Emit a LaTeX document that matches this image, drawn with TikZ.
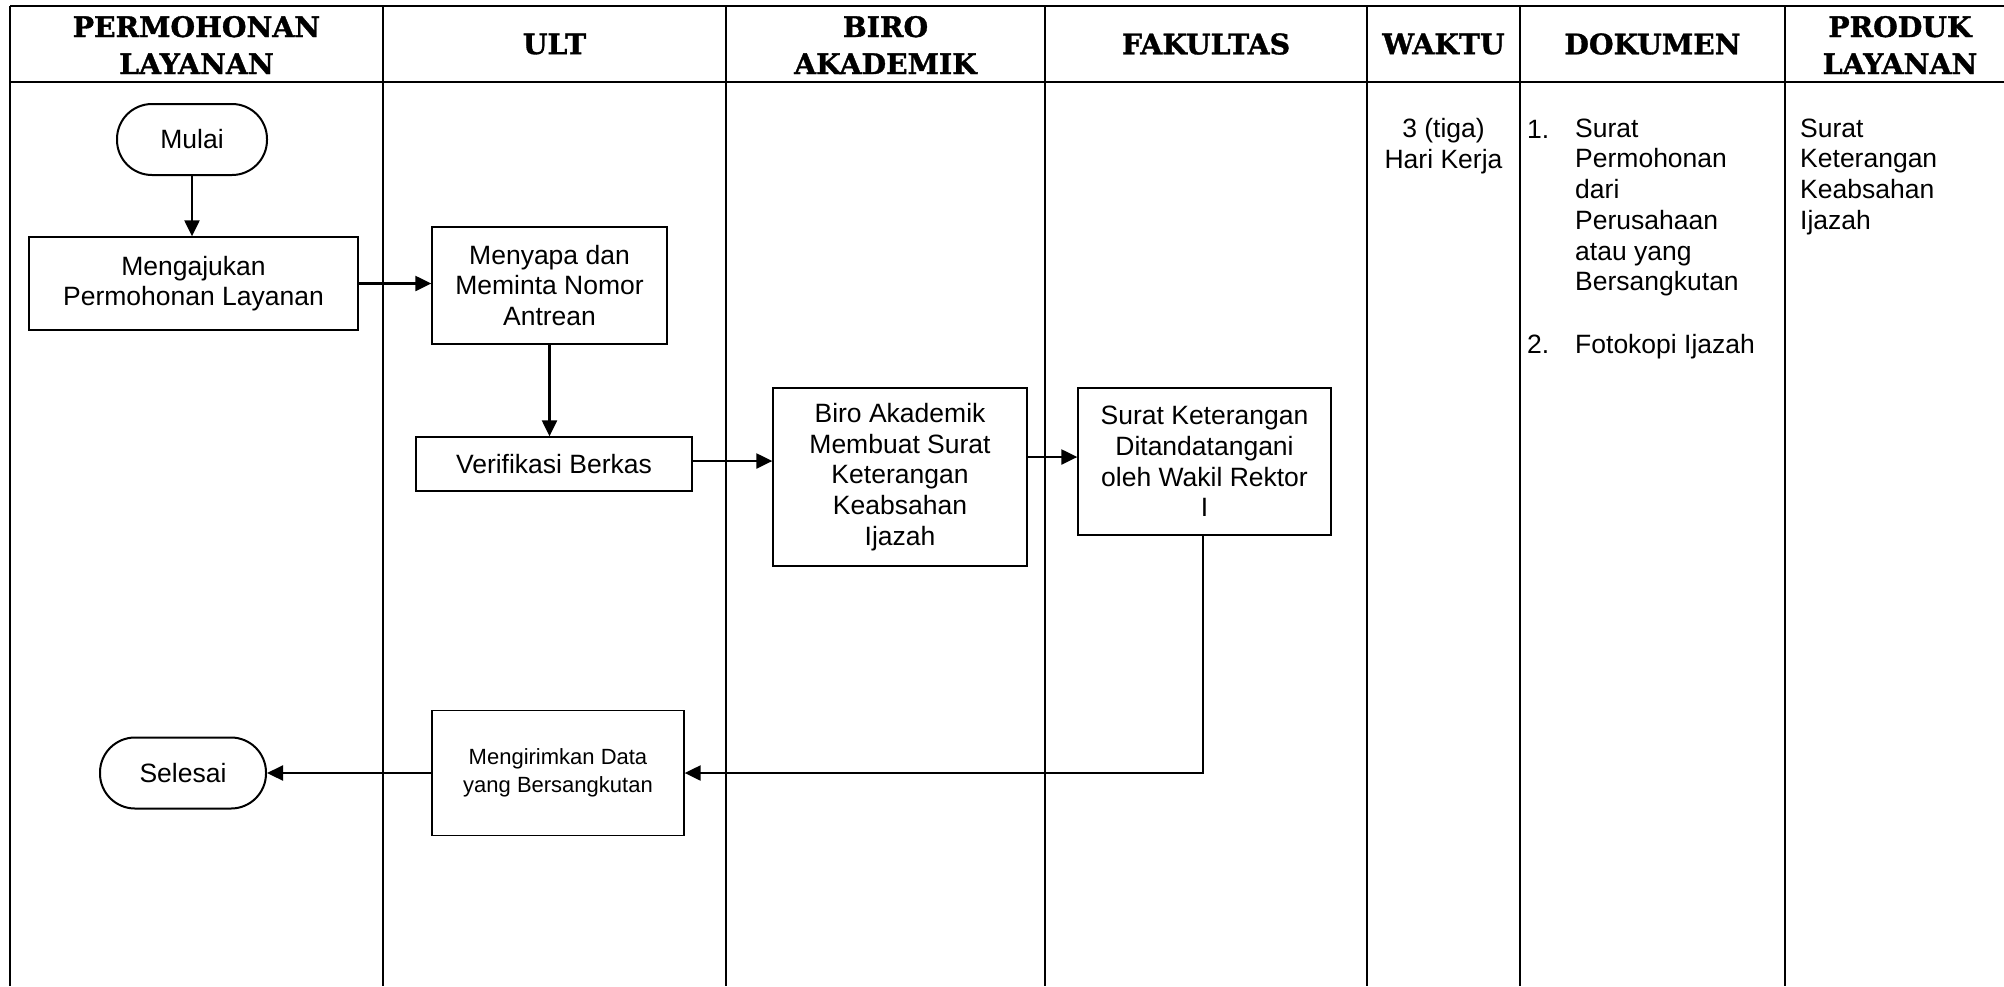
\documentclass[tikz,border=0pt]{standalone}
\usepackage{fontspec}
\setmainfont{Liberation Sans}
\newfontfamily\hdrfont{DejaVu Serif}[BoldFeatures={FakeBold=1.2}]
\usetikzlibrary{arrows.meta}
\newcommand{\bodyfs}{\fontsize{26.5}{30.7}\selectfont}
\newcommand{\smallfs}{\fontsize{22}{28}\selectfont}
\newcommand{\hdrfs}{\hdrfont\bfseries\fontsize{28.3}{37}\selectfont}
\tikzset{
  lane/.style={line width=2.2pt},
  box/.style={draw, line width=1.3pt, inner sep=0pt, align=center, font=\bodyfs},
  term/.style={draw, line width=2pt, inner sep=0pt, align=center, font=\bodyfs, rounded corners=35pt},
  arr/.style={line width=2.2pt, -{Triangle[length=16pt,width=15pt]}},
  hdr/.style={inner sep=0pt, align=center, font=\hdrfs},
  txt/.style={inner sep=0pt, font=\bodyfs},
}
\begin{document}
\begin{tikzpicture}[x=1pt,y=-1pt]
\useasboundingbox (0,0) rectangle (2004,986);
\fill[white] (0,0) rectangle (2004,986);
% table
\draw[lane] (10,6) -- (2004,6);
\draw[lane] (10,82) -- (2004,82);
\foreach \xx in {10,383,726,1045,1367,1520,1785}{
  \draw[lane] (\xx,6) -- (\xx,986);
}
% headers
\node[hdr] (h1) at (196.5,45) {PERMOHONAN\\LAYANAN};
\node[hdr] (h2) at (554.5,44) {ULT};
\node[hdr] (h3) at (885.5,45) {BIRO\\AKADEMIK};
\node[hdr] (h4) at (1206,44) {FAKULTAS};
\node[hdr] (h5) at (1443.5,44) {WAKTU};
\node[hdr] (h6) at (1652.5,44) {DOKUMEN};
\node[hdr] (h7) at (1900,45) {PRODUK\\LAYANAN};
% flow nodes
\node[term, minimum width=150pt, minimum height=71pt] (mulai) at (192,139.5) {Mulai};
\node[box, minimum width=329pt, minimum height=93pt] (aju) at (193.5,283.5) {Mengajukan\\Permohonan Layanan};
\node[box, minimum width=235pt, minimum height=117pt] (sapa) at (549.5,285.5) {Menyapa dan\\Meminta Nomor\\Antrean};
\node[box, minimum width=276pt, minimum height=54pt] (verif) at (554,464) {Verifikasi Berkas};
\node[box, minimum width=254pt, minimum height=178pt] (biro) at (900,477) {Biro Akademik\\Membuat Surat\\Keterangan\\Keabsahan\\Ijazah};
\node[box, minimum width=253pt, minimum height=147pt] (surat) at (1204.5,461.5) {Surat Keterangan\\Ditandatangani\\oleh Wakil Rektor\\I};
\node[box, font=\smallfs, minimum width=252pt, minimum height=125pt] (kirim) at (558,773) {Mengirimkan Data\\yang Bersangkutan};
\node[term, minimum width=166pt, minimum height=71pt] (selesai) at (183,773) {Selesai};
% connectors
\draw[arr] (mulai.south) -- (mulai.south |- aju.north);
\draw[arr] (aju.east) -- (aju.east -| sapa.west);
\draw[arr] (sapa.south) -- (sapa.south |- verif.north);
\draw[arr] ([yshift=3pt]verif.east) -- ([yshift=3pt]verif.east -| biro.west);
\draw[arr] ([yshift=20pt]biro.east) -- ([yshift=20pt]biro.east -| surat.west);
\draw[arr] ([xshift=-1.5pt]surat.south) |- (kirim.east);
\draw[arr] (kirim.west) -- (selesai.east);
% side columns
\node[txt, align=center, anchor=north] (waktu) at (1443.5,118.5) {3 (tiga)\\Hari Kerja};
\node[txt, anchor=base west] (n1) at (1527,138) {1.};
\node[txt, align=left, anchor=north west] (d1) at (1575,118.5) {Surat\\Permohonan\\dari\\Perusahaan\\atau yang\\Bersangkutan};
\node[txt, anchor=base west] (n2) at (1527,353) {2.};
\node[txt, anchor=base west] (d2) at (1575,353) {Fotokopi Ijazah};
\node[txt, align=left, anchor=north west] (prod) at (1800,118.5) {Surat\\Keterangan\\Keabsahan\\Ijazah};
\end{tikzpicture}
\end{document}
